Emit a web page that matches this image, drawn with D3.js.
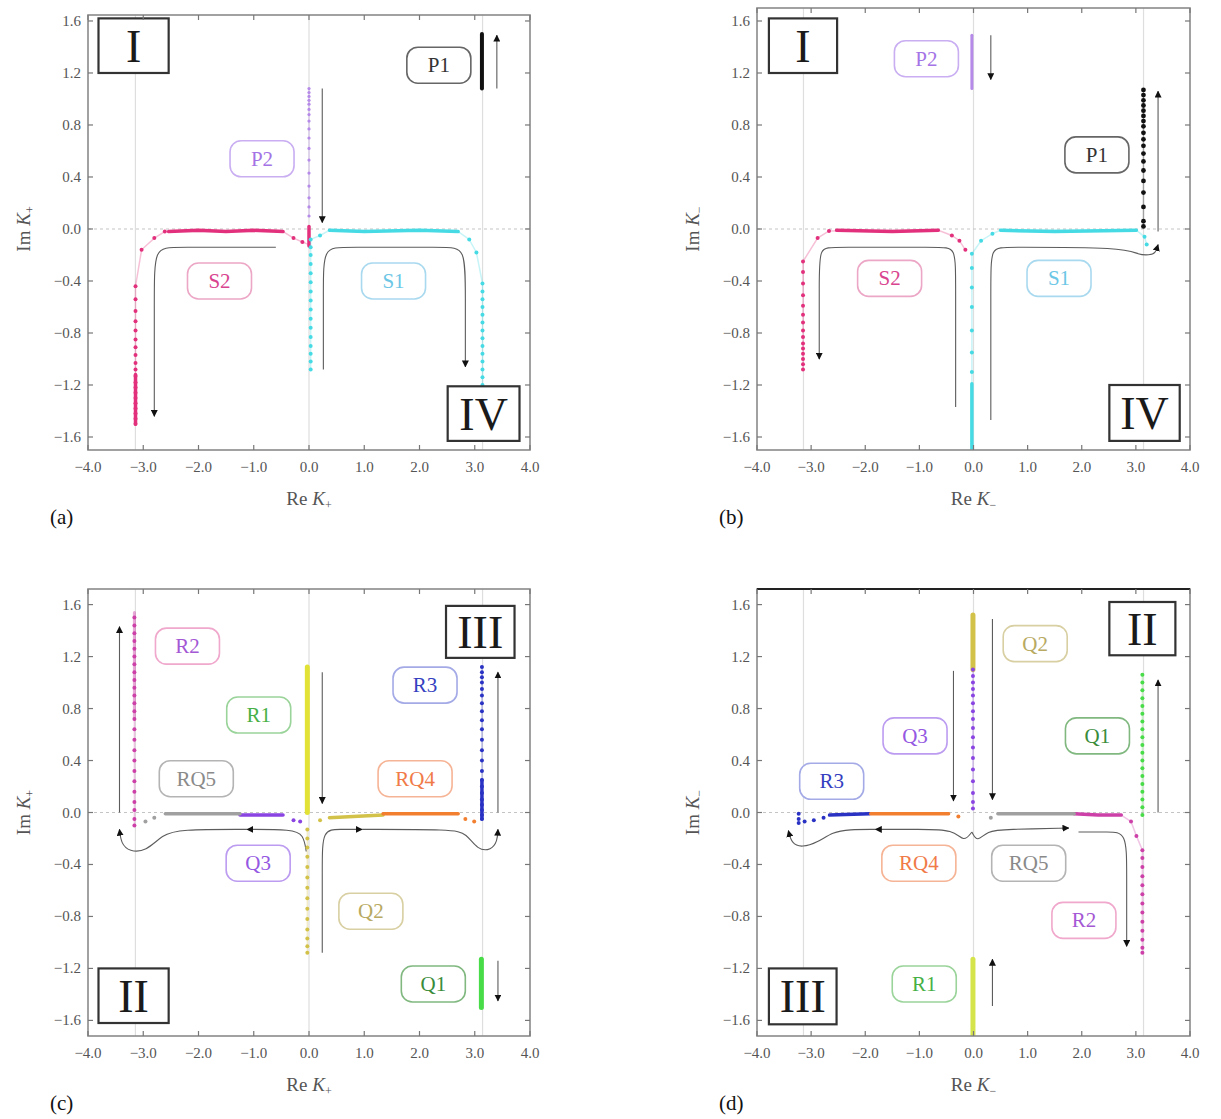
<!DOCTYPE html>
<html><head><meta charset="utf-8">
<script src="https://cdn.jsdelivr.net/npm/d3@7"></script>
<style>body{margin:0;background:#fff}svg{display:block}</style>
</head><body>
<svg id="c" width="1221" height="1119"></svg>
<script>
// ---------- axis ticks ----------
const xTicks = [-4, -3, -2, -1, 0, 1, 2, 3, 4];
const yTicks = [-1.6, -1.2, -0.8, -0.4, 0, 0.4, 0.8, 1.2, 1.6];
const gridX = [-3.1416, 0, 3.1416];

// ---------- colours ----------
const colS2 = '#e2307c', colS1 = '#46dbe4', colP1 = '#111111', colP2 = '#b58ae8';
const colR2 = '#cc40a8', colR1 = '#e2e236', colR3 = '#2a32c4', colRQ4 = '#f27f30';
const colRQ5 = '#a0a0a0', colQ3 = '#8a44e2', colQ2 = '#d3c24a', colQ1 = '#48dc48';

// ---------- panel (a) ----------
const aP1Band = [[3.13, 1.08], [3.13, 1.50]];
const aP1Arrow = [[3.40, 1.08], [3.40, 1.49]];
const aP2Dots = [[0, 1.08], [0, 1.05], [0, 1.02], [0, 0.99], [0, 0.96], [0, 0.92], [0, 0.88], [0, 0.83], [0, 0.77], [0, 0.70], [0, 0.62], [0, 0.53], [0, 0.43], [0, 0.33], [0, 0.24], [0, 0.17], [0, 0.10]];
const aP2Arrow = [[0.24, 1.08], [0.24, 0.05]];
const aS2Dots = [[-3.14, -1.50], [-3.14, -1.46], [-3.14, -1.42], [-3.14, -1.38], [-3.14, -1.34], [-3.14, -1.30], [-3.14, -1.26], [-3.14, -1.22], [-3.14, -1.18], [-3.14, -1.13], [-3.14, -1.08], [-3.14, -1.03], [-3.14, -0.97], [-3.14, -0.91], [-3.14, -0.85], [-3.14, -0.78], [-3.14, -0.71], [-3.14, -0.63], [-3.14, -0.54], [-3.14, -0.44], [-3.03, -0.16], [-2.80, -0.07], [-2.61, -0.02], [-0.28, -0.07], [-0.12, -0.10]];
const aS2Bands = [[[-2.54, -0.02], [-2.0, -0.01], [-1.5, -0.02], [-1.0, -0.01], [-0.47, -0.02]], [[0.0, 0.02], [0.0, -0.13]], [[-3.14, -1.50], [-3.14, -1.12]]];
const aS2Trace = [[-3.14, -1.50], [-3.14, -0.44], [-3.03, -0.16], [-2.80, -0.07], [-2.61, -0.02], [-0.47, -0.02], [-0.28, -0.07], [-0.12, -0.10], [0, -0.12]];
const aS2Arrow = [[-0.60, -0.14], [-2.45, -0.14], [-2.80, -0.14], [-2.80, -0.50], [-2.80, -1.44]];
const aS1Dots = [[0.03, -0.08], [0.03, -0.14], [0.03, -0.20], [0.03, -0.27], [0.03, -0.34], [0.03, -0.41], [0.03, -0.48], [0.03, -0.55], [0.03, -0.62], [0.03, -0.69], [0.03, -0.76], [0.03, -0.83], [0.03, -0.90], [0.03, -0.96], [0.03, -1.02], [0.03, -1.08], [0.20, -0.05], [2.90, -0.08], [3.03, -0.18], [3.14, -0.42], [3.14, -0.48], [3.14, -0.54], [3.14, -0.60], [3.14, -0.66], [3.14, -0.72], [3.14, -0.78], [3.14, -0.84], [3.14, -0.90], [3.14, -0.96], [3.14, -1.02], [3.14, -1.08], [3.14, -1.14], [3.14, -1.20]];
const aS1Bands = [[[0.37, -0.01], [1.0, -0.02], [2.0, -0.01], [2.70, -0.02]]];
const aS1Trace = [[0.03, -1.08], [0.03, -0.08], [0.20, -0.05], [0.37, -0.01], [2.70, -0.02], [2.90, -0.08], [3.03, -0.18], [3.14, -0.42], [3.14, -1.20]];
const aS1Arrow = [[0.26, -1.08], [0.26, -0.45], [0.26, -0.14], [0.62, -0.14], [2.50, -0.14], [2.83, -0.14], [2.83, -0.50], [2.83, -1.06]];

// ---------- panel (b) ----------
const bP2Band = [[-0.03, 1.49], [-0.03, 1.08]];
const bP2Arrow = [[0.32, 1.49], [0.32, 1.15]];
const bP1Dots = [[3.14, 1.07], [3.14, 1.03], [3.14, 0.99], [3.14, 0.95], [3.14, 0.91], [3.14, 0.87], [3.14, 0.83], [3.14, 0.79], [3.14, 0.74], [3.14, 0.69], [3.14, 0.64], [3.14, 0.58], [3.14, 0.52], [3.14, 0.45], [3.14, 0.37], [3.14, 0.28], [3.14, 0.17], [3.14, 0.06], [3.14, 0.02]];
const bP1Arrow = [[3.41, -0.02], [3.41, 1.06]];
const bS2Dots = [[-3.15, -1.08], [-3.15, -1.04], [-3.15, -1.00], [-3.15, -0.96], [-3.15, -0.92], [-3.15, -0.88], [-3.15, -0.83], [-3.15, -0.78], [-3.15, -0.72], [-3.15, -0.66], [-3.15, -0.59], [-3.15, -0.51], [-3.15, -0.42], [-3.15, -0.33], [-3.15, -0.25], [-2.88, -0.07], [-2.67, -0.015], [-0.40, -0.05], [-0.26, -0.09], [-0.15, -0.16]];
const bS2Bands = [[[-2.53, -0.01], [-1.5, -0.02], [-0.65, -0.01]]];
const bS2Trace = [[-3.15, -1.08], [-3.15, -0.25], [-2.88, -0.07], [-2.67, -0.015], [-0.65, -0.01], [-0.40, -0.05], [-0.26, -0.09], [-0.15, -0.16]];
const bS2Arrow = [[-0.33, -1.37], [-0.33, -0.40], [-0.33, -0.14], [-0.60, -0.14], [-2.60, -0.14], [-2.85, -0.14], [-2.85, -0.40], [-2.85, -1.00]];
const bS1Dots = [[-0.03, -0.19], [-0.03, -0.30], [-0.03, -0.45], [-0.03, -0.60], [-0.03, -0.78], [-0.03, -0.95], [-0.03, -1.10], [0.14, -0.09], [0.35, -0.036], [3.16, -0.06], [3.20, -0.12]];
const bS1Bands = [[[0.50, -0.01], [1.5, -0.02], [3.01, -0.01]], [[-0.03, -1.19], [-0.03, -1.72]]];
const bS1Trace = [[-0.03, -1.72], [-0.03, -0.19], [0.14, -0.09], [0.35, -0.036], [0.50, -0.01], [3.01, -0.01], [3.16, -0.06], [3.20, -0.12]];
const bS1Arrow = [[0.32, -1.47], [0.32, -0.40], [0.32, -0.14], [0.60, -0.14], [2.80, -0.14], [3.05, -0.20], [3.25, -0.20], [3.36, -0.19], [3.41, -0.12]];

// ---------- panel (c) ----------
const cR2Band = [[-3.16, 1.54], [-3.16, 0.72]];
const cR2Dots = [[-3.16, 1.50], [-3.16, 1.44], [-3.16, 1.38], [-3.16, 1.32], [-3.16, 1.26], [-3.16, 1.20], [-3.16, 1.14], [-3.16, 1.08], [-3.16, 1.02], [-3.16, 0.96], [-3.16, 0.90], [-3.16, 0.84], [-3.16, 0.78], [-3.16, 0.72], [-3.16, 0.64], [-3.16, 0.56], [-3.16, 0.48], [-3.16, 0.40], [-3.16, 0.32], [-3.16, 0.24], [-3.16, 0.16], [-3.16, 0.08], [-3.16, 0.02], [-3.16, -0.05], [-3.16, -0.10]];
const cR2Arrow = [[-3.43, 0.0], [-3.43, 1.43]];
const cR1Band = [[-0.03, 1.12], [-0.03, 0.0]];
const cR1Arrow = [[0.24, 1.08], [0.24, 0.07]];
const cR3Dots = [[3.13, 1.12], [3.13, 1.08], [3.13, 1.04], [3.13, 1.00], [3.13, 0.95], [3.13, 0.90], [3.13, 0.84], [3.13, 0.78], [3.13, 0.71], [3.13, 0.64], [3.13, 0.56], [3.13, 0.48], [3.13, 0.40], [3.13, 0.32], [3.13, 0.25], [3.13, 0.20], [3.13, 0.15], [3.13, 0.10], [3.13, 0.06], [3.13, 0.02], [3.13, -0.02], [3.13, -0.05]];
const cR3Band = [[3.13, 0.25], [3.13, -0.05]];
const cR3Arrow = [[3.42, 0.0], [3.42, 1.08]];
const cQ2Dots = [[-0.03, -0.13], [-0.03, -0.20], [-0.03, -0.27], [-0.03, -0.34], [-0.03, -0.42], [-0.03, -0.50], [-0.03, -0.58], [-0.03, -0.66], [-0.03, -0.74], [-0.03, -0.82], [-0.03, -0.90], [-0.03, -0.97], [-0.03, -1.03], [-0.03, -1.08], [0.20, -0.06]];
const cQ2Band = [[0.37, -0.04], [0.8, -0.03], [1.34, -0.02]];
const cQ2Arrow = [[0.24, -1.08], [0.24, -0.40], [0.24, -0.13], [0.55, -0.13], [0.96, -0.13]];
const cRQ4Band = [[1.34, -0.01], [2.0, -0.01], [2.70, -0.01]];
const cRQ4Dots = [[2.83, -0.05], [2.99, -0.07]];
const cRQ4Arrow = [[0.96, -0.13], [2.60, -0.13], [2.85, -0.16], [3.05, -0.29], [3.30, -0.29], [3.41, -0.22], [3.42, -0.13]];
const cQ1Band = [[3.12, -1.13], [3.12, -1.50]];
const cQ1Arrow = [[3.42, -1.14], [3.42, -1.45]];
const cQ3Band = [[-1.25, -0.02], [-0.47, -0.02]];
const cQ3Dots = [[-0.28, -0.06], [-0.16, -0.07]];
const cQ3Arrow = [[-0.05, -0.30], [-0.10, -0.17], [-0.30, -0.13], [-1.12, -0.13]];
const cRQ5Band = [[-2.6, -0.01], [-1.25, -0.01]];
const cRQ5Dots = [[-2.96, -0.07], [-2.80, -0.04]];
const cRQ5Arrow = [[-1.12, -0.13], [-2.35, -0.13], [-2.65, -0.17], [-2.95, -0.30], [-3.25, -0.30], [-3.40, -0.24], [-3.43, -0.13]];

// ---------- panel (d) ----------
const dQ2Band = [[-0.01, 1.52], [-0.01, 1.10]];
const dQ2Arrow = [[0.35, 1.49], [0.35, 0.10]];
const dQ3Dots = [[-0.01, 1.10], [-0.01, 1.05], [-0.01, 1.00], [-0.01, 0.95], [-0.01, 0.90], [-0.01, 0.84], [-0.01, 0.78], [-0.01, 0.72], [-0.01, 0.65], [-0.01, 0.58], [-0.01, 0.50], [-0.01, 0.42], [-0.01, 0.33], [-0.01, 0.24], [-0.01, 0.15], [-0.01, 0.08], [-0.01, 0.03]];
const dQ3Arrow = [[-0.37, 1.09], [-0.37, 0.09]];
const dQ1Dots = [[3.12, 1.06], [3.12, 1.00], [3.12, 0.94], [3.12, 0.88], [3.12, 0.82], [3.12, 0.76], [3.12, 0.70], [3.12, 0.64], [3.12, 0.58], [3.12, 0.52], [3.12, 0.46], [3.12, 0.40], [3.12, 0.34], [3.12, 0.28], [3.12, 0.22], [3.12, 0.16], [3.12, 0.10], [3.12, 0.04], [3.12, -0.02]];
const dQ1Arrow = [[3.41, 0.0], [3.41, 1.02]];
const dR2Band = [[1.86, -0.01], [2.3, -0.02], [2.73, -0.02]];
const dR2Dots = [[2.91, -0.07], [3.01, -0.18], [3.12, -0.29], [3.12, -0.35], [3.12, -0.42], [3.12, -0.49], [3.12, -0.56], [3.12, -0.63], [3.12, -0.70], [3.12, -0.77], [3.12, -0.84], [3.12, -0.91], [3.12, -0.98], [3.12, -1.04], [3.12, -1.08]];
const dR2Arrow = [[1.94, -0.15], [2.50, -0.15], [2.83, -0.15], [2.83, -0.45], [2.83, -1.03]];
const dRQ5Band = [[0.45, -0.01], [1.2, -0.01], [1.86, -0.01]];
const dRQ5Dots = [[0.32, -0.04]];
const dRQ5Arrow = [[-0.03, -0.15], [0.07, -0.23], [0.25, -0.14], [0.60, -0.13], [1.76, -0.12]];
const dR3Dots = [[-3.23, -0.01], [-3.23, -0.05], [-3.23, -0.08], [-3.12, -0.07], [-2.95, -0.06], [-2.77, -0.04]];
const dR3Band = [[-2.66, -0.02], [-1.92, -0.01]];
const dR3Arrow = [[-1.81, -0.13], [-2.30, -0.13], [-2.60, -0.15], [-2.88, -0.23], [-3.17, -0.27], [-3.36, -0.24], [-3.42, -0.14]];
const dRQ4Band = [[-1.90, -0.01], [-1.0, -0.01], [-0.46, -0.01]];
const dRQ4Dots = [[-0.28, -0.03]];
const dRQ4Arrow = [[-0.03, -0.15], [-0.18, -0.23], [-0.36, -0.13], [-1.0, -0.13], [-1.81, -0.13]];
const dR1Band = [[-0.01, -1.13], [-0.01, -1.72]];
const dR1Arrow = [[0.35, -1.49], [0.35, -1.13]];

// ---------- label boxes: [text, x, y, textColour, boxColour] ----------
const aLabels = [['P1', 2.35, 1.26, '#333', '#666'], ['P2', -0.85, 0.54, '#a474e6', '#c9aef2'], ['S2', -1.62, -0.40, '#d9448f', '#eca7c6'], ['S1', 1.53, -0.40, '#6cc6e6', '#a9d9ef']];
const bLabels = [['P2', -0.87, 1.31, '#a474e6', '#c9aef2'], ['P1', 2.28, 0.57, '#333', '#666'], ['S2', -1.55, -0.38, '#d9448f', '#eca7c6'], ['S1', 1.58, -0.38, '#6cc6e6', '#a9d9ef']];
const cLabels = [['R2', -2.20, 1.28, '#a458d4', '#f0a8cc'], ['R1', -0.91, 0.75, '#46b046', '#9ad49a'], ['R3', 2.10, 0.98, '#3440c0', '#a4aae6'], ['RQ5', -2.04, 0.26, '#8a8a8a', '#b4b4b4'], ['RQ4', 1.92, 0.26, '#f07a48', '#f6b496'], ['Q3', -0.92, -0.39, '#9458e2', '#bc9cf0'], ['Q2', 1.12, -0.76, '#b8aa62', '#d8cfa2'], ['Q1', 2.25, -1.32, '#3a8c3a', '#80b880']];
const dLabels = [['Q2', 1.14, 1.30, '#b8aa62', '#d8cfa2'], ['Q3', -1.08, 0.59, '#9458e2', '#bc9cf0'], ['Q1', 2.29, 0.59, '#3a8c3a', '#80b880'], ['R3', -2.62, 0.24, '#3440c0', '#a4aae6'], ['RQ4', -1.01, -0.39, '#f07a48', '#f6b496'], ['RQ5', 1.02, -0.39, '#8a8a8a', '#b4b4b4'], ['R2', 2.04, -0.83, '#a458d4', '#f0a8cc'], ['R1', -0.91, -1.32, '#46b046', '#9ad49a']];

// ---------- roman numeral boxes: [text, x0, x1, y0, y1] ----------
const aRoman = [['I', -3.81, -2.54, 1.20, 1.62], ['IV', 2.51, 3.81, -1.63, -1.21]];
const bRoman = [['I', -3.78, -2.52, 1.20, 1.62], ['IV', 2.51, 3.81, -1.63, -1.20]];
const cRoman = [['III', 2.48, 3.72, 1.19, 1.59], ['II', -3.81, -2.54, -1.62, -1.20]];
const dRoman = [['II', 2.51, 3.73, 1.21, 1.62], ['III', -3.78, -2.53, -1.63, -1.20]];

// ---------- assemble panels ----------
const panels = [
  { id: 'a', left: 88, right: 530, top: 15, bottom: 450, yDom: [-1.70, 1.646], sub: '+', tag: '(a)',
    roman: aRoman, labels: aLabels,
    series: [
      { c: colP1, bands: [aP1Band], dots: [], bw: 4 },
      { c: colP2, dots: aP2Dots, bands: [], r: 1.6, trace: [[0, 1.08], [0, 0.10]] },
      { c: colS2, dots: aS2Dots, bands: aS2Bands, trace: aS2Trace },
      { c: colS1, dots: aS1Dots, bands: aS1Bands, trace: aS1Trace }
    ],
    arrows: [aP1Arrow, aP2Arrow, aS2Arrow, aS1Arrow] },
  { id: 'b', left: 757, right: 1190, top: 8, bottom: 450, yDom: [-1.70, 1.70], sub: '−', tag: '(b)',
    roman: bRoman, labels: bLabels,
    series: [
      { c: colP2, bands: [bP2Band], dots: [], bw: 3 },
      { c: colP1, dots: bP1Dots, bands: [], r: 2.4, trace: [[3.14, 1.07], [3.14, 0.02]] },
      { c: colS2, dots: bS2Dots, bands: bS2Bands, trace: bS2Trace },
      { c: colS1, dots: bS1Dots, bands: bS1Bands, trace: bS1Trace }
    ],
    arrows: [bP2Arrow, bP1Arrow, bS2Arrow, bS1Arrow] },
  { id: 'c', left: 88, right: 530, top: 589, bottom: 1036, yDom: [-1.72, 1.72], sub: '+', tag: '(c)',
    roman: cRoman, labels: cLabels,
    series: [
      { c: colR2, bands: [cR2Band], dots: cR2Dots, bw: 3, bandOp: 0.45, trace: [[-3.16, 0.72], [-3.16, -0.10]] },
      { c: colR1, bands: [cR1Band], dots: [], bw: 5 },
      { c: colQ2, bands: [cQ2Band], dots: cQ2Dots, trace: [[-0.03, -0.13], [-0.03, -1.08]] },
      { c: colRQ4, bands: [cRQ4Band], dots: cRQ4Dots },
      { c: colR3, bands: [cR3Band], dots: cR3Dots, trace: [[3.13, 1.12], [3.13, -0.05]] },
      { c: colQ1, bands: [cQ1Band], dots: [], bw: 5 },
      { c: colQ3, bands: [cQ3Band], dots: cQ3Dots },
      { c: colRQ5, bands: [cRQ5Band], dots: cRQ5Dots }
    ],
    arrows: [cR2Arrow, cR1Arrow, cR3Arrow, cQ2Arrow, cRQ4Arrow, cQ1Arrow, cQ3Arrow, cRQ5Arrow] },
  { id: 'd', left: 757, right: 1190, top: 589, bottom: 1036, yDom: [-1.72, 1.72], sub: '−', tag: '(d)',
    roman: dRoman, labels: dLabels, darkTop: true,
    series: [
      { c: colQ2, bands: [dQ2Band], dots: [], bw: 5 },
      { c: colQ3, bands: [], dots: dQ3Dots, trace: [[-0.01, 1.10], [-0.01, 0.03]] },
      { c: colQ1, bands: [], dots: dQ1Dots, trace: [[3.12, 1.06], [3.12, -0.02]] },
      { c: colR2, bands: [dR2Band], dots: dR2Dots, trace: [[2.73, -0.02], [2.91, -0.07], [3.01, -0.18], [3.12, -0.29], [3.12, -1.08]] },
      { c: colRQ5, bands: [dRQ5Band], dots: dRQ5Dots },
      { c: colR3, bands: [dR3Band], dots: dR3Dots },
      { c: colRQ4, bands: [dRQ4Band], dots: dRQ4Dots },
      { c: '#d6e44c', bands: [dR1Band], dots: [], bw: 5 }
    ],
    arrows: [dQ2Arrow, dQ3Arrow, dQ1Arrow, dR2Arrow, dRQ5Arrow, dR3Arrow, dRQ4Arrow, dR1Arrow] }
];

// ---------- drawing ----------
const svg = d3.select('#c');
const defs = svg.append('defs');
defs.append('marker').attr('id', 'ah').attr('viewBox', '0 0 10 10')
  .attr('refX', 9).attr('refY', 5).attr('markerWidth', 7).attr('markerHeight', 7)
  .attr('markerUnits', 'userSpaceOnUse').attr('orient', 'auto')
  .append('path').attr('d', 'M0,0L10,5L0,10z').attr('fill', '#111');

const SERIF = "'Liberation Serif','Times New Roman',serif";
const fmt = d3.format('.1f');
const lab = v => fmt(v).replace('-', '−');

function drawPanel(p) {
  const x = d3.scaleLinear().domain([-4, 4]).range([p.left, p.right]);
  const y = d3.scaleLinear().domain(p.yDom).range([p.bottom, p.top]);
  const g = svg.append('g');
  const clipId = 'clip' + p.id;
  defs.append('clipPath').attr('id', clipId).append('rect')
    .attr('x', p.left).attr('y', p.top).attr('width', p.right - p.left).attr('height', p.bottom - p.top);

  // grid lines
  g.selectAll(null).data(gridX).join('line')
    .attr('x1', d => x(d)).attr('x2', d => x(d)).attr('y1', p.top).attr('y2', p.bottom)
    .attr('stroke', '#dedede').attr('stroke-width', 1.2);
  g.append('line').attr('x1', p.left).attr('x2', p.right).attr('y1', y(0)).attr('y2', y(0))
    .attr('stroke', '#c4c4c4').attr('stroke-width', 1).attr('stroke-dasharray', '3,3');

  const pc = g.append('g').attr('clip-path', `url(#${clipId})`);
  const line = d3.line().x(d => x(d[0])).y(d => y(d[1]));
  const curve = d3.line().curve(d3.curveBasis).x(d => x(d[0])).y(d => y(d[1]));

  // arrows (trajectories)
  p.arrows.forEach(a => {
    pc.append('path').attr('d', curve(a)).attr('fill', 'none')
      .attr('stroke', '#5c5c5c').attr('stroke-width', 1.1).attr('marker-end', 'url(#ah)');
  });

  // series
  p.series.forEach(s => {
    if (s.trace) pc.append('path').attr('d', line(s.trace)).attr('fill', 'none')
      .attr('stroke', s.c).attr('stroke-opacity', 0.3).attr('stroke-width', 1.5);
    s.bands.forEach(b => pc.append('path').attr('d', line(b)).attr('fill', 'none')
      .attr('stroke', s.c).attr('stroke-width', s.bw || 3.5).attr('stroke-opacity', s.bandOp || 1)
      .attr('stroke-linecap', 'round'));
    pc.selectAll(null).data(s.dots).join('circle')
      .attr('cx', d => x(d[0])).attr('cy', d => y(d[1])).attr('r', s.r || 2).attr('fill', s.c);
  });

  // label boxes
  p.labels.forEach(l => {
    const w = l[0].length > 2 ? 74 : 64, h = 36;
    const cx = x(l[1]), cy = y(l[2]);
    g.append('rect').attr('x', cx - w / 2).attr('y', cy - h / 2).attr('width', w).attr('height', h)
      .attr('rx', 11).attr('fill', '#fff').attr('stroke', l[4]).attr('stroke-width', 1.6);
    g.append('text').attr('x', cx).attr('y', cy + 7).attr('text-anchor', 'middle')
      .attr('font-family', SERIF).attr('font-size', 21).attr('fill', l[3]).text(l[0]);
  });

  // roman numeral boxes
  p.roman.forEach(r => {
    const x0 = x(r[1]), x1 = x(r[2]), y0 = y(r[4]), y1 = y(r[3]);
    g.append('rect').attr('x', x0).attr('y', y0).attr('width', x1 - x0).attr('height', y1 - y0)
      .attr('fill', '#fff').attr('stroke', '#333').attr('stroke-width', 2.2);
    g.append('text').attr('x', (x0 + x1) / 2).attr('y', (y0 + y1) / 2 + 16).attr('text-anchor', 'middle')
      .attr('font-family', SERIF).attr('font-size', 46).attr('fill', '#1a1a1a').text(r[0]);
  });

  // frame
  g.append('rect').attr('x', p.left).attr('y', p.top).attr('width', p.right - p.left).attr('height', p.bottom - p.top)
    .attr('fill', 'none').attr('stroke', '#8a8a8a').attr('stroke-width', 1.6);
  if (p.darkTop) g.append('line').attr('x1', p.left).attr('x2', p.right).attr('y1', p.top).attr('y2', p.top)
    .attr('stroke', '#222').attr('stroke-width', 2.2);

  // ticks (inside, all sides)
  const tk = 5;
  g.selectAll(null).data(xTicks).join('line')
    .attr('x1', d => x(d)).attr('x2', d => x(d)).attr('y1', p.bottom).attr('y2', p.bottom - tk)
    .attr('stroke', '#777').attr('stroke-width', 1.2);
  g.selectAll(null).data(xTicks).join('line')
    .attr('x1', d => x(d)).attr('x2', d => x(d)).attr('y1', p.top).attr('y2', p.top + tk)
    .attr('stroke', '#777').attr('stroke-width', 1.2);
  g.selectAll(null).data(yTicks).join('line')
    .attr('x1', p.left).attr('x2', p.left + tk).attr('y1', d => y(d)).attr('y2', d => y(d))
    .attr('stroke', '#777').attr('stroke-width', 1.2);
  g.selectAll(null).data(yTicks).join('line')
    .attr('x1', p.right).attr('x2', p.right - tk).attr('y1', d => y(d)).attr('y2', d => y(d))
    .attr('stroke', '#777').attr('stroke-width', 1.2);

  // tick labels
  g.selectAll(null).data(xTicks).join('text')
    .attr('x', d => x(d)).attr('y', p.bottom + 22).attr('text-anchor', 'middle')
    .attr('font-family', SERIF).attr('font-size', 15).attr('fill', '#555').text(d => lab(d));
  g.selectAll(null).data(yTicks).join('text')
    .attr('x', p.left - 7).attr('y', d => y(d) + 5).attr('text-anchor', 'end')
    .attr('font-family', SERIF).attr('font-size', 15).attr('fill', '#555').text(d => lab(d));

  // axis titles
  const xt = g.append('text').attr('x', (p.left + p.right) / 2).attr('y', p.bottom + 55)
    .attr('text-anchor', 'middle').attr('font-family', SERIF).attr('font-size', 19).attr('fill', '#555');
  xt.append('tspan').text('Re ');
  xt.append('tspan').attr('font-style', 'italic').text('K');
  xt.append('tspan').attr('font-size', 12).attr('dy', 4).text(p.sub);

  const yt = g.append('text').attr('transform', `translate(${p.left - 58},${y(0)}) rotate(-90)`)
    .attr('text-anchor', 'middle').attr('font-family', SERIF).attr('font-size', 19).attr('fill', '#555');
  yt.append('tspan').text('Im ');
  yt.append('tspan').attr('font-style', 'italic').text('K');
  yt.append('tspan').attr('font-size', 12).attr('dy', 4).text(p.sub);

  // panel tag
  g.append('text').attr('x', p.left - 38).attr('y', p.bottom + 74)
    .attr('font-family', SERIF).attr('font-size', 21).attr('fill', '#111').text(p.tag);
}

panels.forEach(drawPanel);
</script>
</body></html>
